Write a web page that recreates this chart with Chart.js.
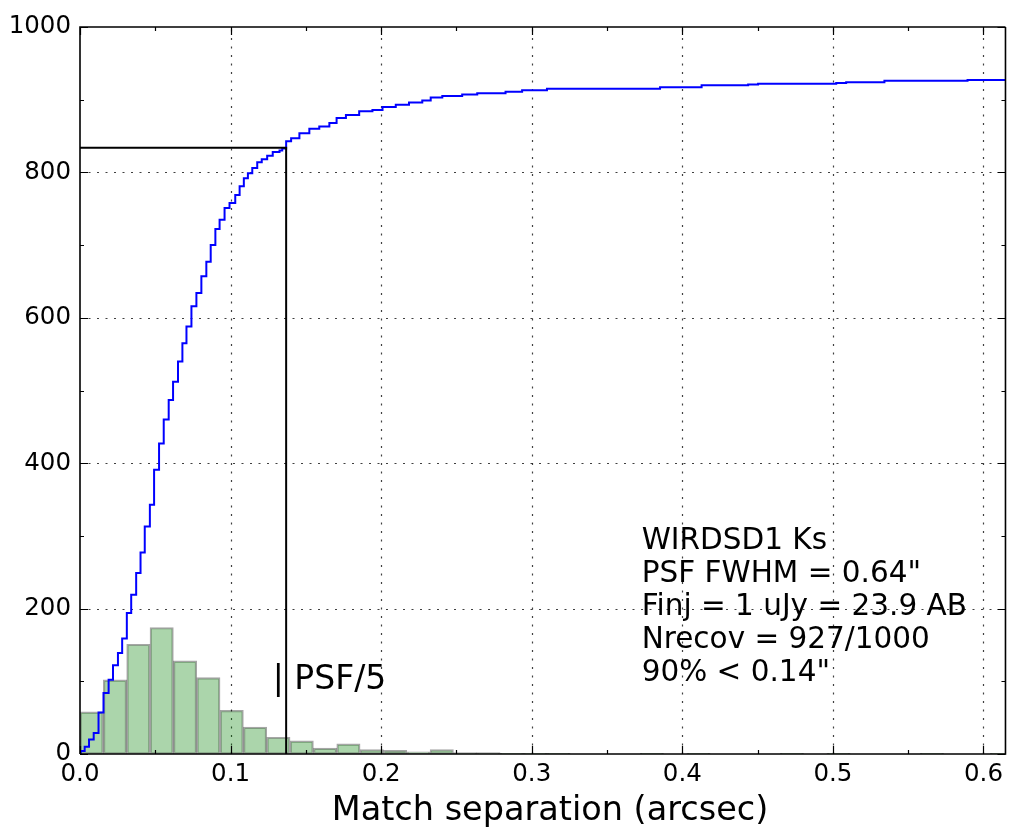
<!DOCTYPE html>
<html lang="en">
<head>
<meta charset="UTF-8">
<title>Match separation</title>
<script src="https://cdn.jsdelivr.net/npm/chart.js"></script>
<style>
  html, body { margin: 0; padding: 0; background: #fff; }
  canvas { display: block; }
</style>
</head>
<body>
<canvas id="sepChart" width="1009" height="829"></canvas>
<script>
// cumulative count of matched sources
const sepSteps = [0, 0.0005, 0.0031, 0.006, 0.0091, 0.0123, 0.0156, 0.019, 0.0219, 0.0252,
  0.028, 0.0311, 0.034, 0.0373, 0.0402, 0.043, 0.0464, 0.0492, 0.0525, 0.0556,
  0.0589, 0.0618, 0.0651, 0.068, 0.0707, 0.074, 0.0773, 0.0806, 0.0839, 0.0868,
  0.0899, 0.0927, 0.096, 0.0993, 0.1031, 0.106, 0.1088, 0.1115, 0.1144, 0.1177,
  0.1207, 0.1243, 0.128, 0.1325, 0.1343, 0.1369, 0.1402, 0.1457, 0.1523, 0.1589,
  0.1656, 0.1704, 0.1766, 0.1854, 0.1942, 0.2009, 0.2097, 0.2185, 0.2273, 0.2329,
  0.2406, 0.2538, 0.2638, 0.2826, 0.2936, 0.3101, 0.3852, 0.4128, 0.4437, 0.4503,
  0.5022, 0.5088, 0.5342, 0.5894, 0.62];
const cumSteps = [0, 4, 10, 20, 29, 57, 84, 102, 122, 139,
  159, 194, 219, 249, 277, 313, 343, 391, 427, 460,
  487, 512, 540, 565, 588, 616, 634, 657, 677, 700,
  722, 735, 751, 758, 769, 781, 792, 799, 806, 814,
  818, 823, 828, 830, 833, 843, 847, 854, 860, 863,
  868, 875, 879, 884, 886, 890, 893, 896, 899, 903,
  905, 907, 909, 911, 913, 915, 917, 920, 921, 922,
  923, 924, 926, 927, 927];

// histogram of separations
const binWidth = 0.0155;
const histCounts = [58, 102, 151, 174, 128, 105, 60, 37, 23, 18,
  8, 14, 6, 5, 3, 6, 2, 2, 1, 1,
  1, 0, 0, 0, 1, 0, 1, 0, 0, 0,
  1, 0, 1, 0, 0, 0, 1, 0, 0, 1];

const xTickVals = [0, 0.1, 0.2, 0.3, 0.4, 0.5, 0.6];
const xMinorVals = [0.05, 0.15, 0.25, 0.35, 0.45, 0.55];
const yTickVals = [0, 200, 400, 600, 800, 1000];
const yMinorVals = [100, 300, 500, 700, 900];

const x90 = 0.1369;   // 90% radius
const n90 = 834;      // 90% of recovered
const psf5 = 0.128;   // PSF/5
const noteLines = ['WIRDSD1 Ks', 'PSF FWHM = 0.64"', 'Finj = 1 uJy = 23.9 AB', 'Nrecov = 927/1000', '90% < 0.14"'];
const xTitle = 'Match separation (arcsec)';

const FONT = '"DejaVu Sans", sans-serif';

// grid, inward ticks, frame and texts (matplotlib look)
const decor = {
  id: 'decor',
  beforeDatasetsDraw(chart) {
    const { ctx, chartArea: a, scales: { x, y } } = chart;
    ctx.save();
    ctx.strokeStyle = 'rgba(0,0,0,0.75)';
    ctx.lineWidth = 1.2;
    ctx.setLineDash([2, 6.5]);
    xTickVals.forEach(v => {
      if (v === 0) return;
      const px = Math.round(x.getPixelForValue(v)) + 0.5;
      ctx.beginPath(); ctx.moveTo(px, a.bottom); ctx.lineTo(px, a.top); ctx.stroke();
    });
    yTickVals.forEach(v => {
      if (v === 0 || v === 1000) return;
      const py = Math.round(y.getPixelForValue(v)) + 0.5;
      ctx.beginPath(); ctx.moveTo(a.left, py); ctx.lineTo(a.right, py); ctx.stroke();
    });
    ctx.restore();
  },
  afterDatasetsDraw(chart) {
    const { ctx, chartArea: a, scales: { x, y } } = chart;
    ctx.save();
    ctx.strokeStyle = '#000';
    ctx.lineWidth = 1.6;
    ctx.beginPath();
    ctx.moveTo(a.left, a.bottom); ctx.lineTo(a.left, a.top); ctx.lineTo(a.right, a.top);
    ctx.moveTo(a.left, a.bottom); ctx.lineTo(a.right, a.bottom); ctx.lineTo(a.right, a.top);
    ctx.stroke();

    ctx.lineWidth = 1.2;
    const tickX = (vals, len) => vals.forEach(v => {
      const px = Math.round(x.getPixelForValue(v)) + 0.5;
      ctx.beginPath();
      ctx.moveTo(px, a.bottom); ctx.lineTo(px, a.bottom - len);
      ctx.moveTo(px, a.top); ctx.lineTo(px, a.top + len);
      ctx.stroke();
    });
    const tickY = (vals, len) => vals.forEach(v => {
      const py = Math.round(y.getPixelForValue(v)) + 0.5;
      ctx.beginPath();
      ctx.moveTo(a.left, py); ctx.lineTo(a.left + len, py);
      ctx.moveTo(a.right, py); ctx.lineTo(a.right - len, py);
      ctx.stroke();
    });
    tickX(xTickVals, 8); tickX(xMinorVals, 4);
    tickY(yTickVals, 8); tickY(yMinorVals, 4);

    ctx.fillStyle = '#000';
    ctx.textAlign = 'left';
    ctx.textBaseline = 'alphabetic';
    ctx.font = '29.5px ' + FONT;
    const nx = x.getPixelForValue(0.373);
    noteLines.forEach((s, i) => ctx.fillText(s, nx, 549 + i * 33));

    ctx.font = '33px ' + FONT;
    ctx.fillText('| PSF/5', x.getPixelForValue(psf5), y.getPixelForValue(90));

    // axis title
    ctx.font = '33.5px ' + FONT;
    ctx.textAlign = 'center';
    ctx.fillText(xTitle, 550, 820);
    ctx.restore();
  }
};

const cumPoints = sepSteps.map((s, i) => ({ x: s, y: cumSteps[i] }));
const histPoints = histCounts.map((c, i) => ({ x: (i + 0.5) * binWidth, y: c }));

new Chart(document.getElementById('sepChart'), {
  type: 'bar',
  data: {
    datasets: [
      {
        type: 'line',
        data: [{ x: 0, y: n90 }, { x: x90, y: n90 }, { x: x90, y: 0 }],
        borderColor: '#000', borderWidth: 2, pointRadius: 0, fill: false, order: 1
      },
      {
        type: 'line',
        data: cumPoints, stepped: 'before',
        borderColor: '#0000ff', borderWidth: 2, pointRadius: 0, fill: false, order: 2
      },
      {
        type: 'bar',
        data: histPoints,
        backgroundColor: 'rgba(0,128,0,0.33)',
        borderColor: 'rgba(0,0,0,0.35)', borderWidth: 1.5, borderSkipped: false,
        barPercentage: 1, categoryPercentage: 1, order: 3
      }
    ]
  },
  options: {
    responsive: false,
    animation: false,
    events: [],
    layout: { padding: { top: 27, right: 1, left: 0, bottom: 0 } },
    plugins: { legend: { display: false }, tooltip: { enabled: false } },
    scales: {
      x: {
        type: 'linear', min: 0, max: 0.6146, offset: false,
        grid: { display: false, drawTicks: false, offset: false },
        border: { display: false },
        afterBuildTicks: s => { s.ticks = xTickVals.map(v => ({ value: v })); },
        afterFit: s => { s.height = 75; },
        ticks: {
          font: { family: FONT, size: 24.5 }, color: '#000', padding: 6,
          maxRotation: 0, autoSkip: false, callback: v => v.toFixed(1)
        }
      },
      y: {
        type: 'linear', min: 0, max: 1000,
        grid: { display: false, drawTicks: false },
        border: { display: false },
        afterBuildTicks: s => { s.ticks = yTickVals.map(v => ({ value: v })); },
        afterFit: s => { s.width = 80; },
        ticks: {
          font: { family: FONT, size: 24.5 }, color: '#000', padding: 9,
          callback: v => String(v)
        }
      }
    }
  },
  plugins: [decor]
});
</script>
</body>
</html>
